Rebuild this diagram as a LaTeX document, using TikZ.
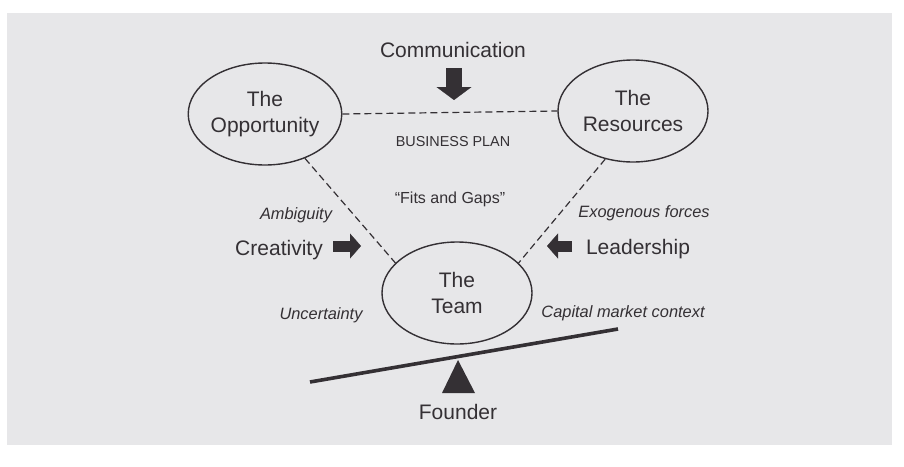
\documentclass[tikz,border=0pt]{standalone}
\usepackage{fontspec}
\setmainfont{Liberation Sans}
\usepackage{xcolor}
\usepackage{tikz}
\usetikzlibrary{arrows.meta,shapes.geometric}

\definecolor{paper}{RGB}{231,231,233}
\definecolor{ink}{RGB}{52,48,52}

\begin{document}
\begin{tikzpicture}[
  x=0.5pt, y=-0.5pt,
  every node/.style={text=ink, inner sep=0pt},
  big/.style={font=\fontsize{10.5}{13}\selectfont},
  ital/.style={font=\fontsize{8.2}{10}\selectfont\itshape},
  bub/.style={draw=ink, ellipse, line width=0.7pt, minimum width=75pt, minimum height=51pt, align=center, big},
  dsh/.style={draw=ink, line width=0.6pt, dash pattern=on 3.5pt off 2pt},
  fat/.style={draw=ink, line width=5.5pt, -{Triangle[width=12.5pt, length=5.5pt, line width=0.1pt]}},
  beam/.style={draw=ink, line width=1.8pt}
]
\useasboundingbox (0,0) rectangle (904,466);
\fill[paper] (7,13) rectangle (892,445);

\node[bub] (opp)  at (265,114) {The\\Opportunity};
\node[bub] (res)  at (633,111) {The\\Resources};
\node[bub] (team) at (457,293) {The\\Team};

\node[big, anchor=base] (comm)   at (453,57)  {Communication};
\node[anchor=base, font=\fontsize{7.2}{9}\selectfont] (plan) at (453,146) {BUSINESS PLAN};
\node[anchor=base, font=\fontsize{8}{10}\selectfont] (fits) at (450,203) {``Fits and Gaps''};
\node[ital, anchor=base] (ambig)  at (296,219) {Ambiguity};
\node[big, anchor=base]  (creat)  at (279,255) {Creativity};
\node[ital, anchor=base] (exo)    at (644,217) {Exogenous forces};
\node[big, anchor=base]  (lead)   at (638,254) {Leadership};
\node[ital, anchor=base] (uncert) at (321,319) {Uncertainty};
\node[ital, anchor=base] (capital) at (623,317) {Capital market context};
\node[big, anchor=base]  (founder) at (458,419) {Founder};

% dashed triangle between the three bubbles
\draw[dsh] (opp.east) -- (res.west);
\draw[dsh] (opp.-48) -- (team.154);
\draw[dsh] (res.240) -- (team.26);

% fat arrows
\coordinate (c1) at (454,68);  \coordinate (c2) at (454,100);
\coordinate (k1) at (333,246); \coordinate (k2) at (361,246);
\coordinate (l1) at (572,246); \coordinate (l2) at (547,246);
\draw[fat, line width=8pt, -{Triangle[width=17.5pt, length=6.5pt, line width=0.1pt]}] (c1) -- (c2);
\draw[fat] (k1) -- (k2);
\draw[fat] (l1) -- (l2);

% seesaw and fulcrum
\coordinate (b1) at (310,382); \coordinate (b2) at (618,329);
\draw[beam] (b1) -- (b2);
\fill[ink] (458,360) -- (475,393) -- (442,393) -- cycle;
\end{tikzpicture}
\end{document}
